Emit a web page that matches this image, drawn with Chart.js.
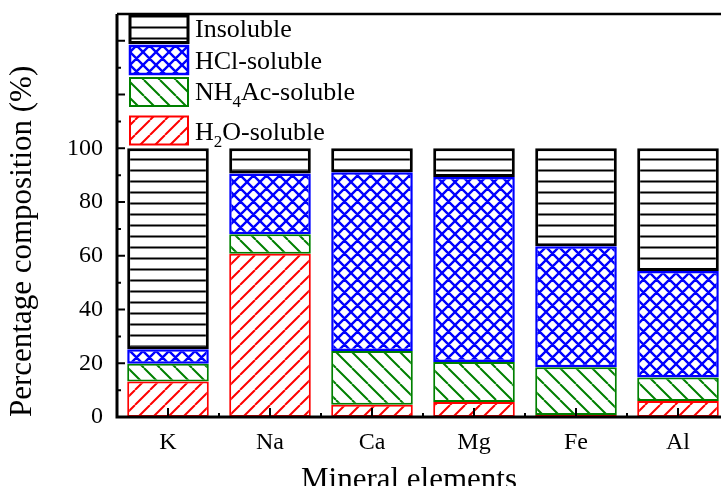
<!DOCTYPE html>
<html>
<head>
<meta charset="utf-8">
<script src="https://cdn.jsdelivr.net/npm/chart.js@4.4.0/dist/chart.umd.min.js"></script>
<style>
  html, body { margin: 0; padding: 0; background: #fff; overflow: hidden; }
  #wrap { width: 740px; height: 500px; }
</style>
</head>
<body>
<div id="wrap"><canvas id="chart" width="740" height="500"></canvas></div>
<script>
// data (% of each element)
const elements = ['K', 'Na', 'Ca', 'Mg', 'Fe', 'Al'];
const seriesNames = ['H2O-soluble', 'NH4Ac-soluble', 'HCl-soluble', 'Insoluble'];
const h2oSoluble = [13.2, 60.8, 4.6, 5.6, 0.7, 6.0];
const nh4acSoluble = [6.6, 7.2, 20.0, 14.9, 17.8, 8.7];
const hclSoluble = [5.4, 22.6, 66.5, 68.8, 45.1, 39.6];
const insoluble = [74.8, 9.4, 8.9, 10.7, 36.4, 45.7];
const yTickLabels = [0, 20, 40, 60, 80, 100];

const SERIF = "'Liberation Serif', 'Times New Roman', serif";
const canvas = document.getElementById('chart');
const ctx = canvas.getContext('2d');

// hatch fills like the original plot
function hatch(color, kind, p, lw) {
    const c = document.createElement('canvas');
    c.width = p; c.height = p;
    const g = c.getContext('2d');
    g.fillStyle = '#fff';
    g.fillRect(0, 0, p, p);
    g.strokeStyle = color;
    g.lineWidth = lw;
    g.beginPath();
    if (kind === 'h') { g.moveTo(0, p / 2); g.lineTo(p, p / 2); }
    if (kind === '/' || kind === 'x') {
        for (const k of [-p, 0, p]) { g.moveTo(k, p); g.lineTo(k + p, 0); }
    }
    if (kind === '\\' || kind === 'x') {
        for (const k of [-p, 0, p]) { g.moveTo(k, 0); g.lineTo(k + p, p); }
    }
    g.stroke();
    return ctx.createPattern(c, 'repeat');
}

const styles = [
    { color: '#ff0000', kind: '/', size: 15, line: 2, width: 2 },
    { color: '#008000', kind: '\\', size: 16, line: 2, width: 2 },
    { color: '#0000ff', kind: 'x', size: 13, line: 2.4, width: 2.5 },
    { color: '#000000', kind: 'h', size: 11, line: 2, width: 3 }
];
const seriesData = [h2oSoluble, nh4acSoluble, hclSoluble, insoluble];

const datasets = seriesNames.map((name, i) => ({
    label: name,
    data: seriesData[i],
    backgroundColor: hatch(styles[i].color, styles[i].kind, styles[i].size, styles[i].line),
    borderColor: styles[i].color,
    borderWidth: styles[i].width,
    borderSkipped: false,
    barPercentage: 0.8,
    categoryPercentage: 1.0
}));

// text with digits as subscripts (H2O, NH4Ac)
function drawSubText(c, text, x, y, size) {
    const parts = text.split(/(\d+)/);
    let cx = x;
    parts.forEach((part, i) => {
        if (!part) return;
        const sub = i % 2 === 1;
        c.font = (sub ? Math.round(size * 0.65) : size) + 'px ' + SERIF;
        c.fillText(part, cx, sub ? y + 7 : y);
        cx += c.measureText(part).width;
    });
}

const frame = {
    id: 'frame',
    afterDatasetsDraw(chart) {
        const { ctx: c, chartArea: a, scales: { x, y } } = chart;
        c.save();
        c.strokeStyle = '#000';
        c.lineWidth = 2;
        c.beginPath();
        y.ticks.forEach(t => {
            const py = y.getPixelForValue(t.value);
            const len = t.value % 20 === 0 ? 8 : 4;
            c.moveTo(a.left, py); c.lineTo(a.left + len, py);
        });
        const half = (x.getPixelForValue(1) - x.getPixelForValue(0)) / 2;
        elements.forEach((e, i) => {
            const px = x.getPixelForValue(i);
            c.moveTo(px, a.bottom); c.lineTo(px, a.bottom - 9);
            c.moveTo(px + half, a.bottom); c.lineTo(px + half, a.bottom - 4);
        });
        c.stroke();

        c.lineWidth = 3;
        c.beginPath();
        c.moveTo(a.left, a.top); c.lineTo(a.left, a.bottom); c.lineTo(a.right, a.bottom);
        c.stroke();
        c.lineWidth = 2.5;
        c.beginPath();
        c.moveTo(a.left, a.top); c.lineTo(a.right, a.top);
        c.stroke();

        // legend, top entry first
        const rows = [{ top: 14.5, base: 37 }, { top: 46, base: 68.5 }, { top: 78, base: 100 }, { top: 116.5, base: 140 }];
        const order = [3, 2, 1, 0];
        c.fillStyle = '#000';
        c.textAlign = 'left';
        c.textBaseline = 'alphabetic';
        order.forEach((di, r) => {
            const ds = chart.data.datasets[di];
            const row = rows[r];
            c.fillStyle = ds.backgroundColor;
            c.fillRect(130, row.top, 58, 28);
            c.strokeStyle = ds.borderColor;
            c.lineWidth = ds.borderWidth;
            c.strokeRect(130, row.top, 58, 28);
            c.fillStyle = '#000';
            drawSubText(c, ds.label, 195, row.base, 26);
        });

        // x axis title
        c.font = '31px ' + SERIF;
        c.textAlign = 'center';
        c.fillText('Mineral elements', 409, 489);
        c.restore();
    }
};

function noPad(s) {
    s.paddingTop = 0; s.paddingBottom = 0;
    s.paddingLeft = 0; s.paddingRight = 0;
}

new Chart(ctx, {
    type: 'bar',
    data: { labels: elements, datasets: datasets },
    options: {
        responsive: false,
        animation: false,
        devicePixelRatio: 1,
        layout: { padding: { top: 14, right: 11, left: 0, bottom: 0 } },
        plugins: {
            legend: { display: false },
            tooltip: { enabled: false }
        },
        scales: {
            x: {
                stacked: true,
                grid: { display: false, drawTicks: false },
                border: { display: false },
                ticks: { color: '#000', padding: 11, font: { family: SERIF, size: 24 } },
                afterFit: s => { s.height = 83; noPad(s); }
            },
            y: {
                stacked: true,
                min: 0,
                max: 150,
                grid: { display: false, drawTicks: false },
                border: { display: false },
                ticks: {
                    stepSize: 10,
                    autoSkip: false,
                    color: '#000',
                    padding: 14,
                    font: { family: SERIF, size: 24 },
                    callback: v => yTickLabels.includes(v) ? v : ''
                },
                title: {
                    display: true,
                    text: 'Percentage composition (%)',
                    align: 'start',
                    color: '#000',
                    font: { family: SERIF, size: 31 },
                    padding: { top: 4, bottom: 0 }
                },
                afterFit: s => { s.width = 117; noPad(s); }
            }
        }
    },
    plugins: [frame]
});
</script>
</body>
</html>
